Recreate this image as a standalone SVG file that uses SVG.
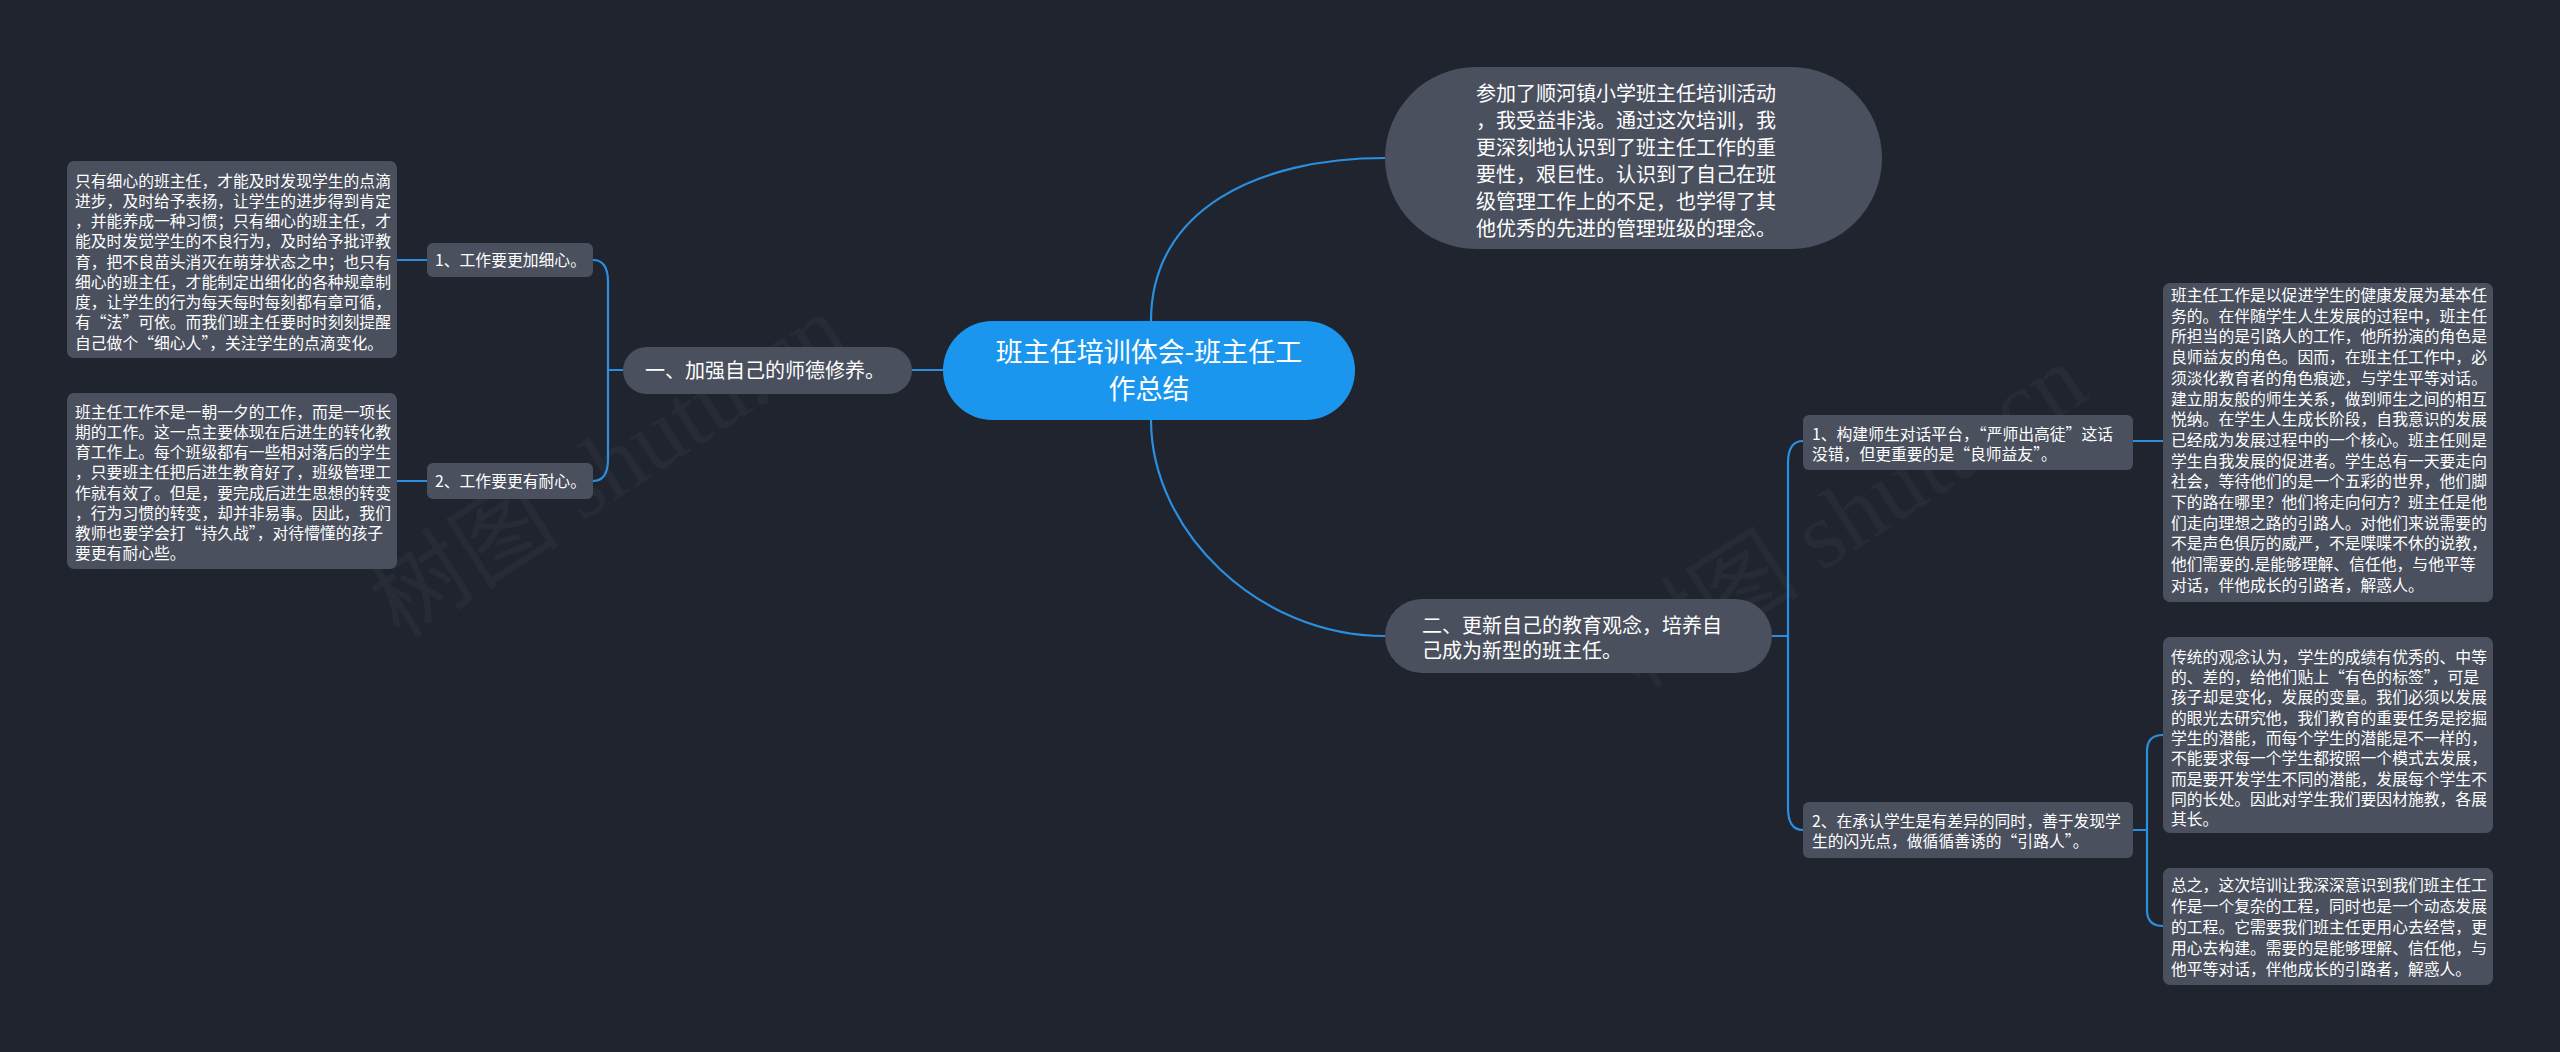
<svg xmlns="http://www.w3.org/2000/svg" width="2560" height="1052" viewBox="0 0 2560 1052">
<style>
.bg{fill:#20242f}
.box{fill:#4a505e}
.center{fill:#1b96ee}
.t{font-family:"Noto Sans CJK SC","Noto Sans",sans-serif;fill:#ffffff}
.s{font-size:15.8px}
.m{font-size:20px}
.l{font-size:27px}
.line{fill:none;stroke:#2b8fe0;stroke-width:2.2;stroke-linecap:round}
.wm{font-family:"Liberation Serif","Noto Sans CJK SC",serif;font-size:96px;fill:#ffffff;fill-opacity:0.035}
</style>
<rect class="bg" x="0" y="0" width="2560" height="1052"/>
<g id="watermarks">
<text class="wm" transform="translate(400,640) rotate(-33)">树图 shutu.cn</text>
<text class="wm" transform="translate(1640,690) rotate(-33)">树图 shutu.cn</text>
</g>
<g id="connectors">
<path class="line" d="M1151,321 C1151,210 1257,158 1385,158"/>
<path class="line" d="M1151,420 C1151,530 1257,636 1385,636"/>
<path class="line" d="M912,370 L943,370"/>
<path class="line" d="M623,370 L608,370"/>
<path class="line" d="M593,260 Q608,260 608,282 L608,459 Q608,481 593,481"/>
<path class="line" d="M397,260 L427,260"/>
<path class="line" d="M397,481 L427,481"/>
<path class="line" d="M1772,636 L1788,636"/>
<path class="line" d="M1803,441 Q1788,441 1788,463 L1788,808 Q1788,830 1803,830"/>
<path class="line" d="M2133,441 L2163,441"/>
<path class="line" d="M2133,830 L2147,830"/>
<path class="line" d="M2163,735 Q2147,735 2147,751 L2147,910 Q2147,926 2163,926"/>
</g>
<g id="center">
<rect class="center" x="943" y="321" width="412" height="99" rx="49.5"/>
<text class="t l" text-anchor="middle" x="1149" y="362">班主任培训体会-班主任工</text>
<text class="t l" text-anchor="middle" x="1149" y="399">作总结</text>
</g>
<g id="top-bubble">
<rect class="box" x="1385" y="67" width="497" height="182" rx="91"/>
<text class="t m" x="1476" y="101">参加了顺河镇小学班主任培训活动</text>
<text class="t m" x="1476" y="128">，我受益非浅。通过这次培训，我</text>
<text class="t m" x="1476" y="155">更深刻地认识到了班主任工作的重</text>
<text class="t m" x="1476" y="182">要性，艰巨性。认识到了自己在班</text>
<text class="t m" x="1476" y="209">级管理工作上的不足，也学得了其</text>
<text class="t m" x="1476" y="236">他优秀的先进的管理班级的理念。</text>
</g>
<g id="branch1">
<rect class="box" x="623" y="347" width="289" height="47" rx="23.5"/>
<text class="t m" x="645" y="377.5">一、加强自己的师德修养。</text>
</g>
<g id="node-l1">
<rect class="box" x="427" y="243" width="166" height="34" rx="6"/>
<text class="t s" x="435" y="266">1、工作要更加细心。</text>
</g>
<g id="node-l2">
<rect class="box" x="427" y="463" width="166" height="36" rx="6"/>
<text class="t s" x="435" y="487">2、工作要更有耐心。</text>
</g>
<g id="box-l1">
<rect class="box" x="67" y="161" width="330" height="197" rx="7"/>
<text class="t s" x="75" y="186.7">只有细心的班主任，才能及时发现学生的点滴</text>
<text class="t s" x="75" y="206.95">进步，及时给予表扬，让学生的进步得到肯定</text>
<text class="t s" x="75" y="227.2">，并能养成一种习惯；只有细心的班主任，才</text>
<text class="t s" x="75" y="247.45">能及时发觉学生的不良行为，及时给予批评教</text>
<text class="t s" x="75" y="267.7">育，把不良苗头消灭在萌芽状态之中；也只有</text>
<text class="t s" x="75" y="287.95">细心的班主任，才能制定出细化的各种规章制</text>
<text class="t s" x="75" y="308.2">度，让学生的行为每天每时每刻都有章可循，</text>
<text class="t s" x="75" y="328.45">有“法”可依。而我们班主任要时时刻刻提醒</text>
<text class="t s" x="75" y="348.7">自己做个“细心人”，关注学生的点滴变化。</text>
</g>
<g id="box-l2">
<rect class="box" x="67" y="393" width="330" height="176" rx="7"/>
<text class="t s" x="75" y="417.7">班主任工作不是一朝一夕的工作，而是一项长</text>
<text class="t s" x="75" y="437.95">期的工作。这一点主要体现在后进生的转化教</text>
<text class="t s" x="75" y="458.2">育工作上。每个班级都有一些相对落后的学生</text>
<text class="t s" x="75" y="478.45">，只要班主任把后进生教育好了，班级管理工</text>
<text class="t s" x="75" y="498.7">作就有效了。但是，要完成后进生思想的转变</text>
<text class="t s" x="75" y="518.95">，行为习惯的转变，却并非易事。因此，我们</text>
<text class="t s" x="75" y="539.2">教师也要学会打“持久战”，对待懵懂的孩子</text>
<text class="t s" x="75" y="559.45">要更有耐心些。</text>
</g>
<g id="branch2">
<rect class="box" x="1385" y="599" width="387" height="74" rx="37"/>
<text class="t m" x="1422" y="632.5">二、更新自己的教育观念，培养自</text>
<text class="t m" x="1422" y="657.5">己成为新型的班主任。</text>
</g>
<g id="node-r1">
<rect class="box" x="1803" y="415" width="330" height="55" rx="6"/>
<text class="t s" x="1812" y="440">1、构建师生对话平台，“严师出高徒”这话</text>
<text class="t s" x="1812" y="460">没错，但更重要的是“良师益友”。</text>
</g>
<g id="node-r2">
<rect class="box" x="1803" y="802" width="330" height="56" rx="6"/>
<text class="t s" x="1812" y="827">2、在承认学生是有差异的同时，善于发现学</text>
<text class="t s" x="1812" y="847">生的闪光点，做循循善诱的“引路人”。</text>
</g>
<g id="box-r1">
<rect class="box" x="2163" y="283" width="330" height="319" rx="7"/>
<text class="t s" x="2171" y="301">班主任工作是以促进学生的健康发展为基本任</text>
<text class="t s" x="2171" y="321.7">务的。在伴随学生人生发展的过程中，班主任</text>
<text class="t s" x="2171" y="342.4">所担当的是引路人的工作，他所扮演的角色是</text>
<text class="t s" x="2171" y="363.1">良师益友的角色。因而，在班主任工作中，必</text>
<text class="t s" x="2171" y="383.8">须淡化教育者的角色痕迹，与学生平等对话。</text>
<text class="t s" x="2171" y="404.5">建立朋友般的师生关系，做到师生之间的相互</text>
<text class="t s" x="2171" y="425.2">悦纳。在学生人生成长阶段，自我意识的发展</text>
<text class="t s" x="2171" y="445.9">已经成为发展过程中的一个核心。班主任则是</text>
<text class="t s" x="2171" y="466.6">学生自我发展的促进者。学生总有一天要走向</text>
<text class="t s" x="2171" y="487.3">社会，等待他们的是一个五彩的世界，他们脚</text>
<text class="t s" x="2171" y="508">下的路在哪里？他们将走向何方？班主任是他</text>
<text class="t s" x="2171" y="528.7">们走向理想之路的引路人。对他们来说需要的</text>
<text class="t s" x="2171" y="549.4">不是声色俱厉的威严，不是喋喋不休的说教，</text>
<text class="t s" x="2171" y="570.1">他们需要的.是能够理解、信任他，与他平等</text>
<text class="t s" x="2171" y="590.8">对话，伴他成长的引路者，解惑人。</text>
</g>
<g id="box-r2">
<rect class="box" x="2163" y="637" width="330" height="196" rx="7"/>
<text class="t s" x="2171" y="662.7">传统的观念认为，学生的成绩有优秀的、中等</text>
<text class="t s" x="2171" y="683">的、差的，给他们贴上“有色的标签”，可是</text>
<text class="t s" x="2171" y="703.3">孩子却是变化，发展的变量。我们必须以发展</text>
<text class="t s" x="2171" y="723.6">的眼光去研究他，我们教育的重要任务是挖掘</text>
<text class="t s" x="2171" y="743.9">学生的潜能，而每个学生的潜能是不一样的，</text>
<text class="t s" x="2171" y="764.2">不能要求每一个学生都按照一个模式去发展，</text>
<text class="t s" x="2171" y="784.5">而是要开发学生不同的潜能，发展每个学生不</text>
<text class="t s" x="2171" y="804.8">同的长处。因此对学生我们要因材施教，各展</text>
<text class="t s" x="2171" y="825.1">其长。</text>
</g>
<g id="box-r3">
<rect class="box" x="2163" y="868" width="330" height="117" rx="7"/>
<text class="t s" x="2171" y="891">总之，这次培训让我深深意识到我们班主任工</text>
<text class="t s" x="2171" y="912">作是一个复杂的工程，同时也是一个动态发展</text>
<text class="t s" x="2171" y="933">的工程。它需要我们班主任更用心去经营，更</text>
<text class="t s" x="2171" y="954">用心去构建。需要的是能够理解、信任他，与</text>
<text class="t s" x="2171" y="975">他平等对话，伴他成长的引路者，解惑人。</text>
</g>
</svg>
